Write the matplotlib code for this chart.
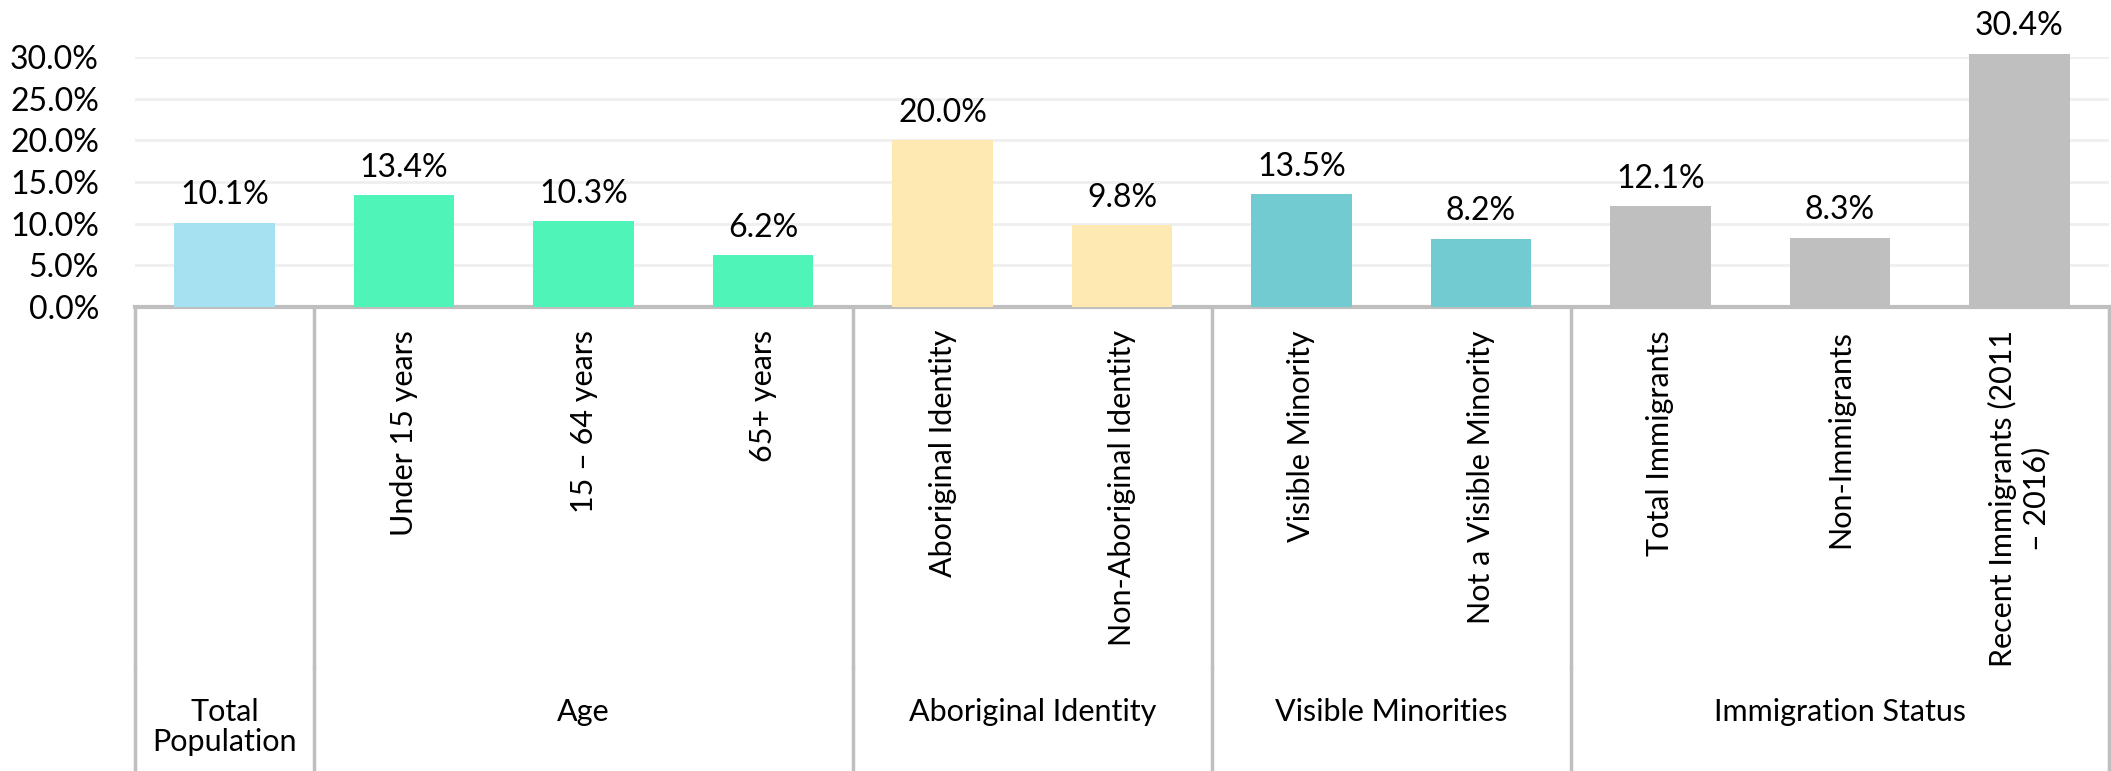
import matplotlib
matplotlib.use("Agg")
import matplotlib.pyplot as plt
import matplotlib.transforms as mtransforms
from matplotlib.lines import Line2D

# data
categories = ["", "Under 15 years", "15 – 64 years", "65+ years",
              "Aboriginal Identity", "Non-Aboriginal Identity",
              "Visible Minority", "Not a Visible Minority",
              "Total Immigrants", "Non-Immigrants",
              "Recent Immigrants (2011\n– 2016)"]
values = [10.1, 13.4, 10.3, 6.2, 20.0, 9.8, 13.5, 8.2, 12.1, 8.3, 30.4]
groups = ["Total\nPopulation", "Age", "Aboriginal Identity",
          "Visible Minorities", "Immigration Status"]
group_sizes = [1, 3, 2, 2, 3]
group_colors = ["#a6e1f2", "#4ff4b9", "#ffe9b3", "#71cbd0", "#bfbfbf"]
yticks = [0, 5, 10, 15, 20, 25, 30]

plt.rcParams['font.family'] = ['Lato', 'DejaVu Sans']
W, H = 2111, 771

def fy(px):  # pixel row from top -> figure fraction
    return 1 - px / H

fig = plt.figure(figsize=(W / 100, H / 100), dpi=100)
ax_left, ax_right = 135 / W, 2109 / W
ax = fig.add_axes([ax_left, fy(307), ax_right - ax_left, fy(57) - fy(307)])

colors = []
for c, n in zip(group_colors, group_sizes):
    colors += [c] * n
x = list(range(len(values)))
bars = ax.bar(x, values, width=0.56, color=colors, zorder=3, clip_on=False)

for xi, v in zip(x, values):
    ax.annotate(f"{v:.1f}%", (xi, v), xytext=(0, 9), textcoords="offset points",
                ha="center", va="bottom", fontsize=23, color="black",
                annotation_clip=False)

ax.set_xlim(-0.5, len(values) - 0.5)
ax.set_ylim(0, 30)
ax.set_yticks(yticks)
ax.set_yticklabels([f"{t:.1f}%" for t in yticks], fontsize=23)
ax.tick_params(axis="y", length=0, pad=26)
ax.tick_params(axis="x", length=0, labelbottom=False)
ax.grid(axis="y", color="#efefef", linewidth=2, zorder=0)
for s in ["top", "left", "right"]:
    ax.spines[s].set_visible(False)
ax.spines["bottom"].set_color("#bfbfbf")
ax.spines["bottom"].set_linewidth(3)

# category labels (rotated) and group labels
tr = mtransforms.blended_transform_factory(ax.transData, fig.transFigure)
for xi, lab in zip(x, categories):
    if lab:
        ax.text(xi, fy(330), lab, transform=tr, rotation=90, ha="center",
                va="top", multialignment="center", fontsize=22, clip_on=False)

start = -0.5
bounds = [start]
for name, n in zip(groups, group_sizes):
    mid = start + n / 2
    ax.text(mid, fy(698), name, transform=tr, ha="center", va="top",
            multialignment="center", fontsize=22, linespacing=1.1)
    start += n
    bounds.append(start)

# separators between groups
for b in bounds:
    for y0, y1 in [(307, 667), (669, 771)]:
        fig.add_artist(Line2D([b, b], [fy(y0), fy(y1)], transform=tr,
                              color="#bfbfbf", linewidth=2.5))

fig.savefig("out.png", dpi=100)
